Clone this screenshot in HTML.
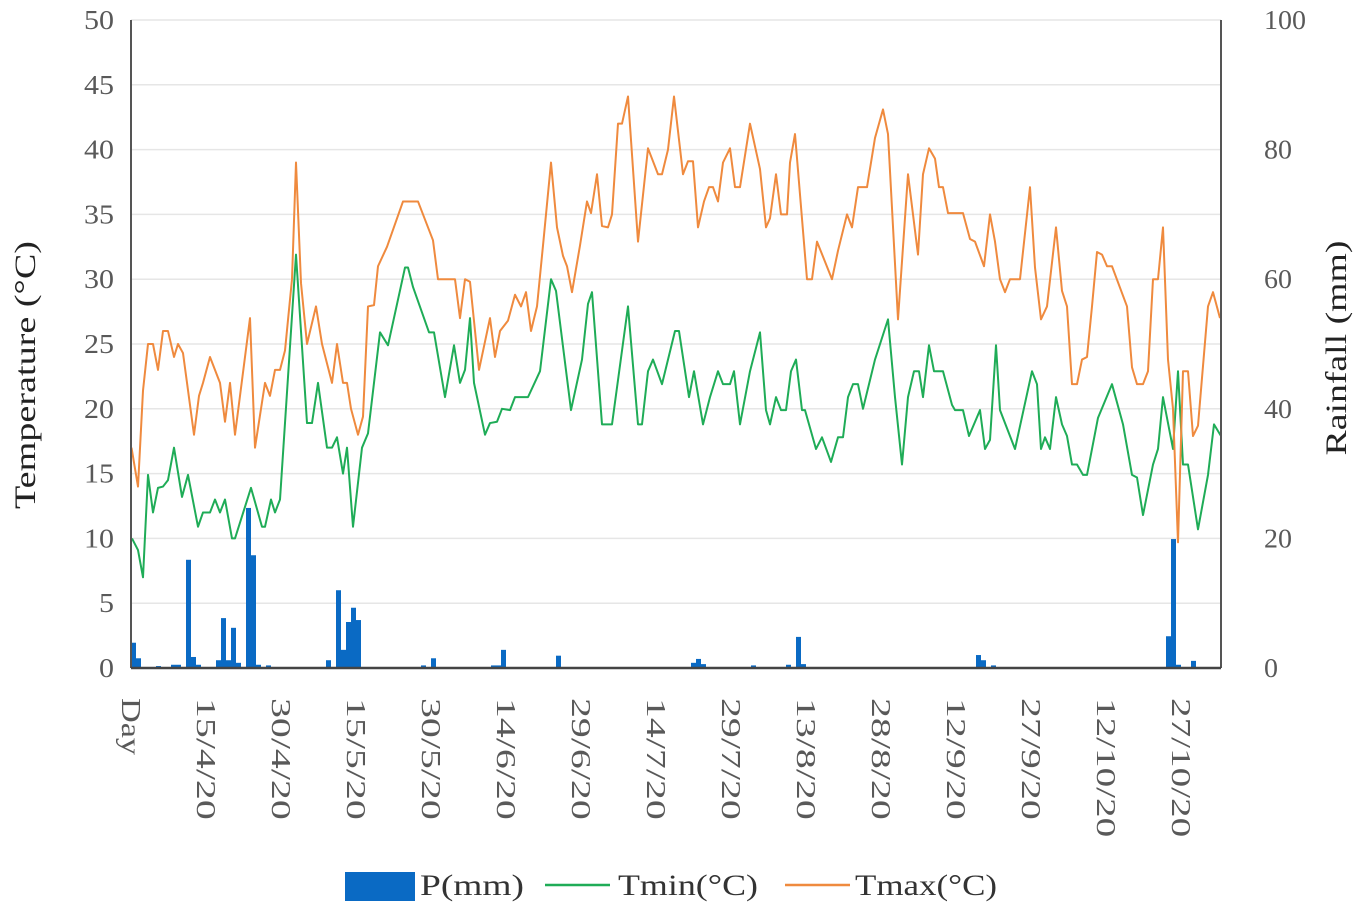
<!DOCTYPE html>
<html><head><meta charset="utf-8">
<style>
html,body{margin:0;padding:0;background:#fff;}
svg{display:block;font-family:"Liberation Serif",serif;}
</style></head>
<body>
<svg id="chart" width="1361" height="912" viewBox="0 0 1361 912" xmlns="http://www.w3.org/2000/svg">
<g id="grid"></g>
<g id="bars"></g>
<g id="lines"></g>
<g id="axes"></g>
<text transform="translate(35,375) rotate(-90)" text-anchor="middle" font-size="30" fill="#222" textLength="268" lengthAdjust="spacingAndGlyphs">Temperature (°C)</text>
<text transform="translate(1346,348) rotate(-90)" text-anchor="middle" font-size="30" fill="#222" textLength="215" lengthAdjust="spacingAndGlyphs">Rainfall (mm)</text>
<g>
<rect x="345" y="872" width="70" height="29" fill="#0a6ac4"/>
<text x="420" y="895" font-size="30" fill="#333" textLength="104" lengthAdjust="spacingAndGlyphs">P(mm)</text>
<line x1="545" y1="885" x2="610" y2="885" stroke="#1fac57" stroke-width="2.5"/>
<text x="618" y="895" font-size="30" fill="#333" textLength="140" lengthAdjust="spacingAndGlyphs">Tmin(°C)</text>
<line x1="785" y1="885" x2="850" y2="885" stroke="#ef8a3e" stroke-width="2.5"/>
<text x="855" y="895" font-size="30" fill="#333" textLength="142" lengthAdjust="spacingAndGlyphs">Tmax(°C)</text>
</g>
</svg>
<script>
const tempTicks = [0,5,10,15,20,25,30,35,40,45,50];
const rainTicks = [0,20,40,60,80,100];
const dateLabels = ["Day","15/4/20","30/4/20","15/5/20","30/5/20","14/6/20","29/6/20","14/7/20","29/7/20","13/8/20","28/8/20","12/9/20","27/9/20","12/10/20","27/10/20"];
const dateDays = [0,15,30,45,60,75,90,105,120,135,150,165,180,195,210];
const rainDays = [0,1,5,8,9,11,12,13,17,18,19,20,21,23,24,25,27,39,41,42,43,44,45,58,60,72,73,74,85,112,113,114,124,131,133,134,169,170,172,207,208,209,212];
const rainMm = [3.9,1.5,0.3,0.5,0.5,16.7,1.7,0.5,1.2,7.7,1.2,6.2,0.8,24.7,17.4,0.5,0.4,1.2,12,2.8,7.1,9.3,7.4,0.4,1.5,0.4,0.4,2.8,1.9,0.8,1.4,0.6,0.4,0.5,4.8,0.6,2,1.2,0.4,4.9,19.9,0.5,1.1];
const tmaxDays = [0.1,1.4,2.4,3.4,4.4,5.4,6.4,7.4,8.6,9.4,10.4,12.6,13.6,14.4,15.8,17.8,18.8,19.8,20.8,23.8,24.8,26.8,27.8,28.8,29.8,30.8,32.2,33,34,35.2,37,38.2,40.2,41.2,42.4,43.2,44,45.4,46.4,47.4,48.6,49.4,51.2,54.4,57.4,60.4,61.4,64.8,65.8,66.8,67.8,69.6,71.8,72.8,73.8,75.4,76.8,78,79,80,81.2,82.4,84,85.2,86.4,87.2,88.2,89.8,91.2,92,93.2,94.2,95.4,96.2,97.4,98.2,99.4,101.4,103.4,105.4,106.2,107.4,108.6,110.4,111.4,112.4,113.4,114.6,115.6,116.4,117.4,118.4,119.8,120.8,121.8,123.8,125.8,127,127.8,129,130,131.2,131.8,132.8,135.2,136.2,137.2,140.2,141.4,143.2,144.2,145.4,147.2,148.8,150.4,151.4,153.4,155.4,157.4,158.4,159.6,160.8,161.6,162.4,163.4,166.4,167.8,168.8,170.6,171.8,172.8,173.8,174.8,175.8,177.8,179.8,180.8,182,183.2,185,186.2,187.2,188.2,189.2,190.2,191.2,192.2,193.2,194.2,195.2,196.2,199.2,200.2,201.2,202.4,203.4,204.4,205.4,206.4,207.4,208.4,209.4,210.4,211.4,212.4,213.4,215.4,216.4,217.8];
const tmaxVals = [17,14,21.4,25,25,23,26,26,24,25,24.3,18,21,22,24,22,19,22,18,27,17,22,21,23,23,24.5,30,39,29.7,25,27.9,25,22,25,22,22,20,18,19.4,27.9,28,31,32.5,36,36,33,30,30,27,30,29.8,23,27,24,26,26.8,28.8,27.9,29,26,27.9,32.6,39,34,31.8,31,29,32.6,36,35.1,38.1,34.1,34,35,42,42,44.1,32.9,40.1,38.1,38.1,40,44.1,38.1,39.1,39.1,34,36,37.1,37.1,36,39,40.1,37.1,37.1,42,38.5,34,34.7,38.1,35,35,39,41.2,30,30,32.9,30,32.2,35,34,37.1,37.1,40.9,43.1,41.2,26.9,38.1,31.9,38.1,40.1,39.3,37.1,37.1,35.1,35.1,33.1,32.9,31,35,32.9,30,29,30,30,37.1,30.9,26.9,27.9,34,29.1,27.9,21.9,21.9,23.8,24,27.9,32.1,31.9,31,31,27.9,23.2,21.9,21.9,22.9,30,30,34,23.8,20,9.7,22.9,22.9,17.9,18.7,27.9,29,27];
const tminDays = [0.2,1.4,2.4,3.4,4.4,5.4,6.4,7.4,8.6,10.2,11.4,13.4,14.4,15.8,16.8,17.8,18.8,20.2,20.8,24,26.2,26.8,28,28.8,29.8,33,35.2,36.2,37.4,39.2,40.2,41.2,42.4,43.2,44.4,46.2,47.4,49.8,51.4,54.8,55.4,56.4,59.6,60.6,62.8,64.6,65.8,66.8,67.8,68.6,70.8,71.8,73.2,74.2,75.8,76.8,79.4,81.8,84,85,88,90.2,91.4,92.2,94.2,96.2,99.4,101.4,102.2,103.4,104.4,106.2,108.8,109.6,111.6,112.6,114.4,115.8,117.4,118.4,119.8,120.6,121.8,123.8,125.8,127,127.8,129,130,131,132,133,134.2,134.8,137,138.2,140,141.4,142.4,143.4,144.4,145.4,146.4,148.8,151.4,152.8,154.2,155.4,156.6,157.6,158.4,159.6,160.6,162.4,164.2,164.8,166.4,167.6,169.8,170.8,171.8,173,173.8,176.8,180.2,181.2,182,182.8,183.8,185,186.2,187.2,188.2,189.2,190.4,191.2,193.4,196.2,198.4,200.2,201.2,202.4,204.4,205.4,206.4,208.4,209.4,210.4,211.4,213.4,215.4,216.6,218];
const tminVals = [10,9.1,7,14.9,12,13.9,14,14.5,17,13.2,14.9,10.9,12,12,13,12,13,10,10,13.9,10.9,10.9,13,12,13,31.9,18.9,18.9,22,17,17,17.8,15,17,10.9,17,18.1,25.9,24.9,30.9,30.9,29.4,25.9,25.9,20.9,24.9,22,23,27,22,18,18.9,19,20,19.9,20.9,20.9,22.9,30,29.1,19.9,23.8,28.1,29,18.8,18.8,27.9,18.8,18.8,22.9,23.8,21.9,26,26,20.9,22.9,18.8,20.9,22.9,21.9,21.9,22.9,18.8,22.9,25.9,19.9,18.8,20.9,19.9,19.9,22.9,23.8,19.9,19.9,16.9,17.8,15.9,17.8,17.8,20.9,21.9,21.9,20,23.8,26.9,20.9,15.7,20.9,22.9,22.9,20.9,24.9,22.9,22.9,20.3,19.9,19.9,17.9,19.9,16.9,17.6,24.9,19.9,16.9,22.9,21.9,16.9,17.8,16.9,20.9,18.8,17.9,15.7,15.7,14.9,14.9,19.3,21.9,18.8,14.9,14.7,11.8,15.7,16.9,20.9,16.9,22.9,15.7,15.7,10.7,14.9,18.8,17.9];

const NS='http://www.w3.org/2000/svg';
const X0=131, X1=1221, Y0=668, Y1=20;
const xDay = d => X0 + d*5;
const yT = t => Y0 - (t/50)*(Y0-Y1);
const yR = r => Y0 - (r/100)*(Y0-Y1);
function mk(tag, attrs, parent){const e=document.createElementNS(NS,tag);for(const k in attrs)e.setAttribute(k,attrs[k]);parent.appendChild(e);return e;}
const grid=document.getElementById('grid'), axes=document.getElementById('axes');
tempTicks.forEach(t=>{
  if(t>0){const l=mk('line',{x1:X0,x2:X1,y1:yT(t),y2:yT(t),stroke:'#e6e6e6','stroke-width':1.5},grid);
  
  }
  const s=String(t);
  const tx=mk('text',{x:114,y:yT(t)+9,'text-anchor':'end','font-size':27,fill:'#595959',textLength:s.length*15,lengthAdjust:'spacingAndGlyphs'},axes);
  tx.textContent=s;
  
  
});
rainTicks.forEach(r=>{
  const s=String(r);
  const tx=mk('text',{x:1264,y:yR(r)+9,'font-size':27,fill:'#595959',textLength:s.length*14,lengthAdjust:'spacingAndGlyphs'},axes);
  tx.textContent=s;
  
  
});
const la=mk('line',{x1:X0,x2:X0,y1:Y1,y2:Y0,stroke:'#555','stroke-width':2},axes);


const ra=mk('line',{x1:X1,x2:X1,y1:Y1,y2:Y0,stroke:'#555','stroke-width':2},axes);


const ba=mk('line',{x1:X0,x2:X1,y1:Y0,y2:Y0,stroke:'#444','stroke-width':2.5},axes);


dateLabels.forEach((s,i)=>{
  const x=xDay(dateDays[i]);
  const len = s==="Day" ? 57 : s.length*17.4;
  const tx=mk('text',{transform:`translate(${x-9},698) rotate(90)`,'font-size':27,fill:'#595959',textLength:len,lengthAdjust:'spacingAndGlyphs'},axes);
  tx.textContent=s;
  
  
});
const bars=document.getElementById('bars');
rainDays.forEach((d,i)=>{
  const y=yR(rainMm[i]);
  const r=mk('rect',{x:xDay(d),y:y,width:5,height:Math.max(Y0-y,1.5),fill:'#0a6ac4'},bars);
  
  
});
const lines=document.getElementById('lines');
const pmin=mk('polyline',{points:tminDays.map((d,i)=>xDay(d)+','+yT(tminVals[i])).join(' '),fill:'none',stroke:'#1fac57','stroke-width':2,'stroke-linejoin':'round'},lines);


const pmax=mk('polyline',{points:tmaxDays.map((d,i)=>xDay(d)+','+yT(tmaxVals[i])).join(' '),fill:'none',stroke:'#ef8a3e','stroke-width':2,'stroke-linejoin':'round'},lines);


</script>
</body></html>
